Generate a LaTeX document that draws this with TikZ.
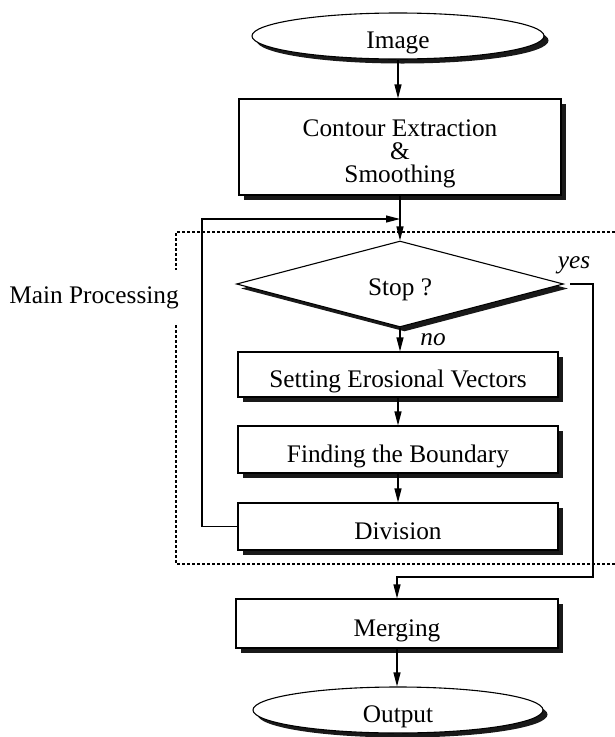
\documentclass[tikz,border=0pt]{standalone}
\usepackage{fontspec}
\setmainfont{Liberation Serif}
\usetikzlibrary{arrows.meta,shapes.geometric,shadows}
\begin{document}
\begin{tikzpicture}[x=1pt,y=-1pt,
  every node/.style={font=\fontsize{25.3}{23}\selectfont},
  castshadow/.style={drop shadow={shadow xshift=4.5pt,shadow yshift=-4.5pt,fill=black!90,opacity=1}},
  lowtext/.style={text height=25pt,text depth=0pt},
  procbox/.style={draw,fill=white,line width=1.1pt,rectangle,minimum width=320pt,
    inner sep=0pt,align=center,castshadow,lowtext},
  terminal/.style={draw,fill=white,ellipse,line width=1.1pt,minimum width=292pt,
    minimum height=46pt,inner sep=0pt,castshadow,lowtext},
  decision/.style={draw,fill=white,diamond,line width=1.1pt,minimum width=327pt,
    minimum height=80pt,inner sep=0pt,castshadow,text height=22pt,text depth=0pt},
  flow/.style={line width=1.1pt,-{Triangle[length=14pt,width=7pt]}},
  frame/.style={line width=1.2pt,dash pattern=on 3pt off 2pt},
  answer/.style={font=\fontsize{25.3}{23}\selectfont\itshape}]
\useasboundingbox (0,0) rectangle (615,737);

% main column
\node[terminal] (image) at (398,36) {Image};
\node[draw,fill=white,line width=1.1pt,rectangle,minimum width=322pt,minimum height=96pt,
  castshadow] (contour) at (400,147) {};
\node[align=center] (contourtext) at (400,154) {Contour Extraction\\\&\\Smoothing};
\node[decision] (stop) at (400,284) {Stop ?};
\node[procbox,minimum height=45pt] (setting) at (398,374.5) {Setting Erosional Vectors};
\node[procbox,minimum height=47pt] (finding) at (398,449.5) {Finding the Boundary};
\node[procbox,minimum height=47pt] (division) at (398,526.5) {Division};
\node[procbox,minimum width=322pt,minimum height=49pt] (merging) at (397,623.5) {Merging};
\node[terminal,minimum width=290pt] (output) at (398,710) {Output};

% dashed frame of the main processing loop
\coordinate (fr-tl) at (176,232);
\coordinate (fr-tr) at (615,232);
\coordinate (fr-bl) at (176,564);
\coordinate (fr-br) at (615,564);
\coordinate (gap-top) at (176,270);
\coordinate (gap-bot) at (176,325);
\draw[frame] (fr-tr) -- (fr-tl) -- (gap-top);
\draw[frame] (gap-bot) -- (fr-bl) -- (fr-br);
\node (mainlabel) at (94,298) {Main Processing};

% straight flow
\draw[flow] (image.south) -- (image.south |- contour.north);
\draw[flow] (contour.south -| stop.north) -- (stop.north);
\draw[flow] (stop.south) -- (stop.south |- setting.north);
\draw[flow] (setting.south) -- (finding.north);
\draw[flow] (finding.south) -- (division.north);
\draw[flow] (merging.south) -- (merging.south |- output.north);

% loop back from division
\coordinate (loopx) at (202,0);
\coordinate (reentry) at (400,219);
\draw[flow] (division.west) -- (division.west -| loopx) |- (reentry);

% exit branch
\coordinate (yesturn) at (593,577);
\draw[flow] ([xshift=6pt]stop.east) -| (yesturn) -| (merging.north);

\node[answer] (yes) at (574,265) {yes};
\node[answer] (no) at (433,340) {no};
\end{tikzpicture}
\end{document}
